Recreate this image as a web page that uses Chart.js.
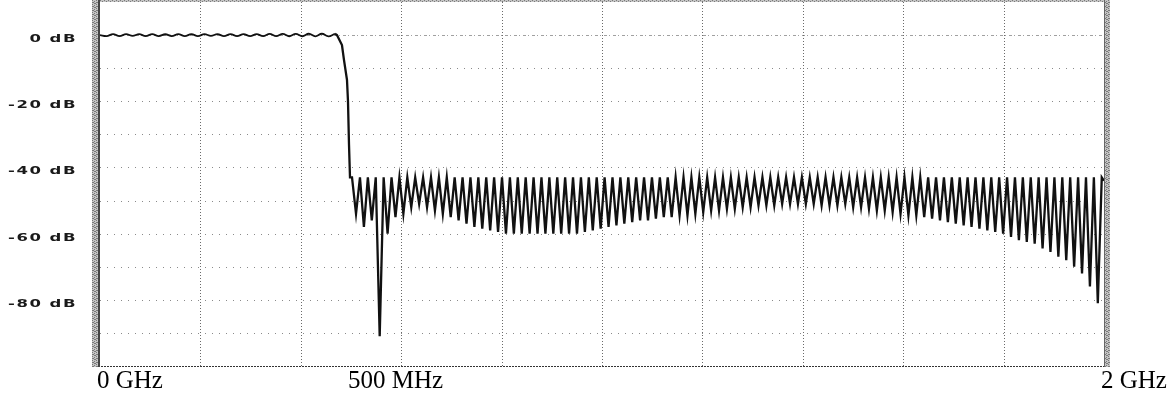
<!DOCTYPE html>
<html>
<head>
<meta charset="utf-8">
<script src="https://cdn.jsdelivr.net/npm/chart.js@4.4.1/dist/chart.umd.min.js"></script>
<style>
  html, body { margin: 0; padding: 0; background: #fff; }
  #contenedor { width: 1170px; height: 402px; position: relative; }
</style>
</head>
<body>
<div id="contenedor"><canvas id="filtro"></canvas></div>
<script>
// Banda de paso: rizado alrededor de 0 dB (MHz, dB)
const bandaPasoMHz = [0, 13, 26, 39, 52, 65, 78, 91, 104, 117, 130, 143, 156, 169, 182, 195, 208, 221, 234,
  247, 260, 273, 286, 299, 312, 325, 338, 351, 364, 377, 390, 403, 416, 429, 442, 455, 468];
const bandaPasoDb = [0, -0.3, 0.3, -0.3, 0.3, -0.25, 0.3, -0.3, 0.3, -0.3,
  0.25, -0.3, 0.3, -0.3, 0.3, -0.3, 0.3, -0.25, 0.3, -0.3,
  0.3, -0.3, 0.3, -0.3, 0.3, -0.3, 0.35, -0.3, 0.35, -0.35,
  0.35, -0.35, 0.4, -0.4, 0.4, -0.4, 0.4];

// Transición hacia la banda de rechazo
const transicionMHz = [468, 472, 482, 486, 492, 494, 496, 498, 502];
const transicionDb = [0.4, 0, -3, -7.5, -13.5, -20, -33, -43, -43];

// Banda de rechazo: lóbulos con pico ~-43 dB y valles
const lobuloInicioMHz = 510;
const lobuloPasoMHz = 15.72;
const picoRechazoDb = -43;
const valleRechazoDb = [
  -54, -58, -56, -91, -60, -55, -54, -52, -51, -52,
  -53, -54, -55, -56, -57, -58, -58.5, -59, -59.5, -60,
  -60, -60, -60, -60, -60, -60, -60, -60, -60, -59.5,
  -59, -58.5, -58, -57.5, -57, -56.5, -56, -56, -55.5, -55,
  -55, -54.5, -54.5, -54, -53.5, -53, -53, -52.5, -52.5, -52,
  -52, -51.5, -51.5, -51.5, -51, -51, -51, -51, -51, -51.5,
  -51.5, -51.5, -51, -52, -52, -52.5, -53, -53, -53.5, -54,
  -54.5, -54.5, -55, -55.5, -56, -56.5, -57, -57.5, -58, -58.5,
  -59, -59.5, -60, -61, -62, -62.5, -63, -64.5, -65.5, -67,
  -68, -70, -72, -76, -81
];
const finalMHz = [2000];
const finalDb = [-44];

// Ejes
const ejeYValores = [0, -20, -40, -60, -80];
const ejeYEtiquetas = ['0 dB', '-20 dB', '-40 dB', '-60 dB', '-80 dB'];
const ejeXValores = [0, 500, 2000];
const ejeXEtiquetas = ['0 GHz', '500 MHz', '2 GHz'];

// Construir los puntos
const puntosPaso = bandaPasoMHz.map((f, i) => ({ x: f, y: bandaPasoDb[i] }));
const puntosRechazo = transicionMHz.map((f, i) => ({ x: f, y: transicionDb[i] }));
valleRechazoDb.forEach((v, k) => {
  const f = lobuloInicioMHz + k * lobuloPasoMHz;
  puntosRechazo.push({ x: f, y: v });
  puntosRechazo.push({ x: f + lobuloPasoMHz / 2, y: picoRechazoDb });
});
finalMHz.forEach((f, i) => puntosRechazo.push({ x: f, y: finalDb[i] }));

// Textura gris de los bordes
function crearTextura(ctx) {
  const c = document.createElement('canvas');
  c.width = 4; c.height = 4;
  const g = c.getContext('2d');
  g.fillStyle = '#c4c4c4';
  g.fillRect(0, 0, 4, 4);
  g.fillStyle = '#7a7a7a';
  g.fillRect(0, 0, 1, 1); g.fillRect(2, 1, 1, 1); g.fillRect(1, 2, 1, 1); g.fillRect(3, 3, 1, 1);
  g.fillRect(2, 3, 1, 1); g.fillRect(0, 2, 1, 1);
  return ctx.createPattern(c, 'repeat');
}

const marco = {
  id: 'marco',
  beforeDatasetsDraw(chart) {
    const { ctx, chartArea: a, scales: { x, y } } = chart;
    ctx.save();
    ctx.lineWidth = 1;
    // rejilla horizontal
    y.ticks.forEach(t => {
      if (t.value <= y.min || t.value >= y.max) return;
      const py = Math.round(y.getPixelForValue(t.value)) + 0.5;
      if (t.value === 0) {
        ctx.strokeStyle = '#a0a0a0';
        ctx.setLineDash([3, 2, 1, 3]);
      } else {
        ctx.strokeStyle = '#8a8a8a';
        ctx.setLineDash([1, 6]);
      }
      ctx.beginPath();
      ctx.moveTo(a.left, py);
      ctx.lineTo(a.right, py);
      ctx.stroke();
    });
    // rejilla vertical
    ctx.strokeStyle = '#6a6a6a';
    ctx.setLineDash([1, 2]);
    x.ticks.forEach(t => {
      if (t.value <= x.min || t.value >= x.max) return;
      const px = Math.round(x.getPixelForValue(t.value)) + 0.5;
      ctx.beginPath();
      ctx.moveTo(px, a.top);
      ctx.lineTo(px, a.bottom);
      ctx.stroke();
    });
    // borde inferior punteado
    ctx.strokeStyle = '#333';
    ctx.setLineDash([2, 1]);
    ctx.beginPath();
    ctx.moveTo(a.left - 8, a.bottom + 0.5);
    ctx.lineTo(a.right + 6, a.bottom + 0.5);
    ctx.stroke();
    ctx.restore();
  },
  afterDatasetsDraw(chart) {
    const { ctx, chartArea: a, scales: { x, y } } = chart;
    ctx.save();
    const textura = crearTextura(ctx);
    ctx.fillStyle = textura;
    ctx.fillRect(a.left - 8, 0, 8, a.bottom + 1);
    ctx.fillRect(a.right, 0, 6, a.bottom + 1);
    ctx.fillRect(a.left, 0, a.right - a.left, 2);
    ctx.fillStyle = '#444';
    ctx.fillRect(a.left - 2, 0, 2, a.bottom + 1);
    ctx.fillStyle = '#666';
    ctx.fillRect(a.right, 0, 1, a.bottom + 1);

    // etiquetas del eje Y
    ctx.fillStyle = '#1a1a1a';
    ctx.font = 'bold 11px "DejaVu Sans"';
    ctx.letterSpacing = '1px';
    ctx.textAlign = 'right';
    ctx.textBaseline = 'alphabetic';
    ejeYValores.forEach((v, i) => {
      const py = y.getPixelForValue(v);
      ctx.save();
      ctx.translate(77, py + 7);
      ctx.scale(1.5, 1);
      ctx.fillText(ejeYEtiquetas[i], 0, 0);
      ctx.restore();
    });

    // etiquetas del eje X
    ctx.letterSpacing = '0px';
    ctx.fillStyle = '#000';
    ctx.font = '25px "Liberation Serif"';
    ctx.textAlign = 'left';
    ejeXValores.forEach((v, i) => {
      const px = x.getPixelForValue(v);
      ctx.fillText(ejeXEtiquetas[i], px - 3, 388);
    });
    ctx.restore();
  }
};

new Chart(document.getElementById('filtro'), {
  type: 'line',
  data: {
    datasets: [{
      data: puntosPaso,
      borderColor: '#111',
      borderWidth: 1.8,
      pointRadius: 0,
      tension: 0.4,
      fill: false
    }, {
      data: puntosRechazo,
      borderColor: '#111',
      borderWidth: 2.3,
      pointRadius: 0,
      tension: 0,
      fill: false
    }]
  },
  options: {
    responsive: true,
    maintainAspectRatio: false,
    animation: false,
    devicePixelRatio: 1,
    layout: { padding: { left: 100, right: 66, top: 2, bottom: 36 } },
    plugins: { legend: { display: false }, tooltip: { enabled: false } },
    scales: {
      x: { type: 'linear', display: false, min: 0, max: 2000, ticks: { stepSize: 200 } },
      y: { type: 'linear', display: false, min: -100, max: 10, ticks: { stepSize: 10 } }
    }
  },
  plugins: [marco]
});
</script>
</body>
</html>
